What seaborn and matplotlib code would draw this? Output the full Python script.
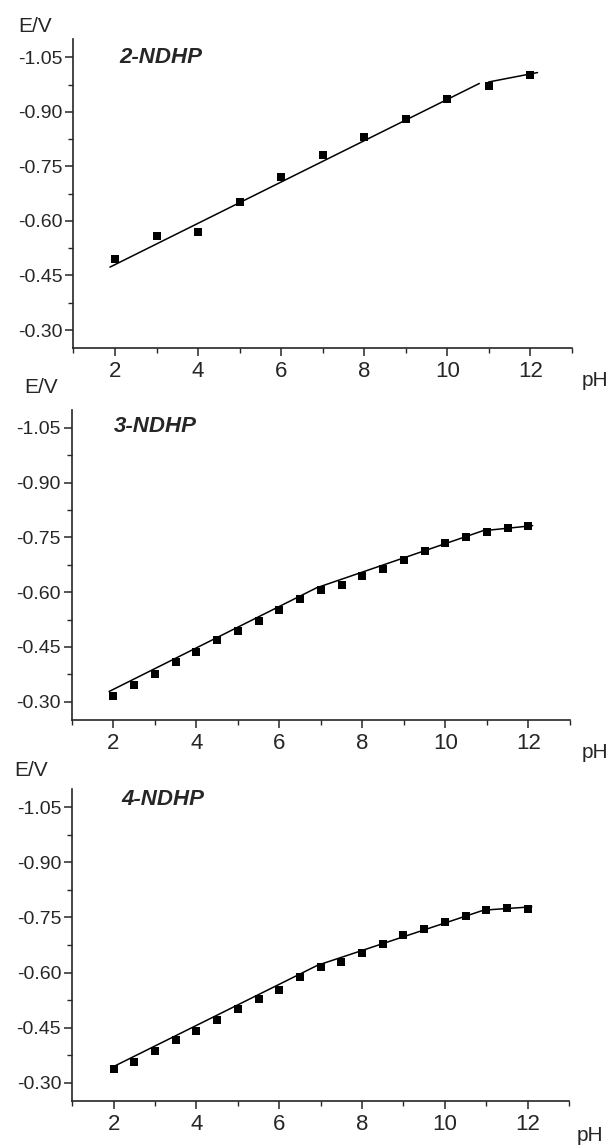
import numpy as np
import pandas as pd
import matplotlib
matplotlib.use("Agg")
import matplotlib.pyplot as plt
from matplotlib.ticker import FixedLocator, FuncFormatter
import seaborn as sns

ph_2ndhp = [2, 3, 4, 5, 6, 7, 8, 9, 10, 11, 12]
e_2ndhp = [-0.494, -0.559, -0.569, -0.651, -0.720, -0.781, -0.831, -0.880, -0.935, -0.971, -1.000]

ph_half = [2, 2.5, 3, 3.5, 4, 4.5, 5, 5.5, 6, 6.5, 7, 7.5, 8, 8.5, 9, 9.5, 10, 10.5, 11, 11.5, 12]
e_3ndhp = [-0.316, -0.346, -0.376, -0.408, -0.435, -0.470, -0.495, -0.520, -0.551, -0.580, -0.605,
           -0.619, -0.644, -0.664, -0.689, -0.714, -0.734, -0.751, -0.764, -0.775, -0.780]
e_4ndhp = [-0.336, -0.356, -0.387, -0.416, -0.442, -0.470, -0.501, -0.529, -0.553, -0.589, -0.614,
           -0.628, -0.652, -0.678, -0.703, -0.719, -0.739, -0.755, -0.770, -0.775, -0.774]

# fitted lines (vertices)
fit_2ndhp_a_ph = [1.88, 10.77]
fit_2ndhp_a_e = [-0.473, -0.978]
fit_2ndhp_b_ph = [10.99, 12.17]
fit_2ndhp_b_e = [-0.982, -1.008]
fit_3ndhp_ph = [1.9, 6.9, 10.9, 12.1]
fit_3ndhp_e = [-0.328, -0.612, -0.768, -0.782]
fit_4ndhp_ph = [2.0, 6.93, 10.94, 12.1]
fit_4ndhp_e = [-0.344, -0.620, -0.770, -0.779]

titles = ["2-NDHP", "3-NDHP", "4-NDHP"]
y_major = [-0.30, -0.45, -0.60, -0.75, -0.90, -1.05]
y_minor = [-0.375, -0.525, -0.675, -0.825, -0.975]
x_major = [2, 4, 6, 8, 10, 12]
x_minor = [1, 3, 5, 7, 9, 11, 13]

W, H = 615, 1148

sns.set_style("ticks")
plt.rcParams['font.family'] = ['Liberation Sans', 'DejaVu Sans']


def px_rect(left, top, right, bottom):
    return [left / W, 1 - bottom / H, (right - left) / W, (bottom - top) / H]


def fig_text(fig, x, y, s, **kw):
    fig.text(x / W, 1 - y / H, s, **kw)


fig = plt.figure(figsize=(W / 100, H / 100), dpi=100)

# panel boxes in pixels: left, top, right, bottom
boxes = [(73.4, 39.1, 572, 348.2), (71.7, 409.5, 570, 720), (72.3, 789, 569, 1101)]
ev_pos = [(18, 32), (24, 393), (14, 776)]
title_pos = [(119, 63), (114, 432), (121, 805)]
ph_pos = [(582, 386), (582, 758), (577, 1141)]

panels = [
    (ph_2ndhp, e_2ndhp, [(fit_2ndhp_a_ph, fit_2ndhp_a_e), (fit_2ndhp_b_ph, fit_2ndhp_b_e)], 38),
    (ph_half, e_3ndhp, [(fit_3ndhp_ph, fit_3ndhp_e)], 30),
    (ph_half, e_4ndhp, [(fit_4ndhp_ph, fit_4ndhp_e)], 30),
]

for i, (xs, ys, fits, msize) in enumerate(panels):
    ax = fig.add_axes(px_rect(*boxes[i]))
    df = pd.DataFrame({'pH': xs, 'E': ys})
    for fx, fy in fits:
        fit = pd.DataFrame({'pH': fx, 'E': fy})
        sns.lineplot(x='pH', y='E', data=fit, ax=ax, color='black', lw=1.1,
                     estimator=None, sort=False)
    sns.scatterplot(x='pH', y='E', data=df, ax=ax, marker='s', s=msize,
                    color='black', edgecolor='black', linewidth=0, zorder=3)

    ax.set_xlim(1, 13)
    ax.set_ylim(-0.25, -1.10)
    ax.xaxis.set_major_locator(FixedLocator(x_major))
    ax.xaxis.set_minor_locator(FixedLocator(x_minor))
    ax.yaxis.set_major_locator(FixedLocator(y_major))
    ax.yaxis.set_minor_locator(FixedLocator(y_minor))
    ax.yaxis.set_major_formatter(FuncFormatter(lambda v, p: f"{v:.2f}"))
    ax.set_xlabel('')
    ax.set_ylabel('')
    sns.despine(ax=ax)
    for sp in ['left', 'bottom']:
        ax.spines[sp].set_linewidth(1.2)
    ax.tick_params(axis='both', which='major', length=6, width=1.1, direction='out')
    ax.tick_params(axis='both', which='minor', length=3.5, width=1.0, direction='out')
    ax.tick_params(axis='x', which='major', labelsize=16, pad=3.5)
    ax.tick_params(axis='y', which='major', labelsize=14, pad=2)

    fig_text(fig, ev_pos[i][0], ev_pos[i][1], 'E/V', fontsize=15, va='baseline', ha='left')
    fig_text(fig, title_pos[i][0], title_pos[i][1], titles[i], fontsize=16,
             fontweight='bold', fontstyle='italic', va='baseline', ha='left')
    fig_text(fig, ph_pos[i][0], ph_pos[i][1], 'pH', fontsize=15, va='baseline', ha='left')

fig.savefig('out.png', dpi=100)
